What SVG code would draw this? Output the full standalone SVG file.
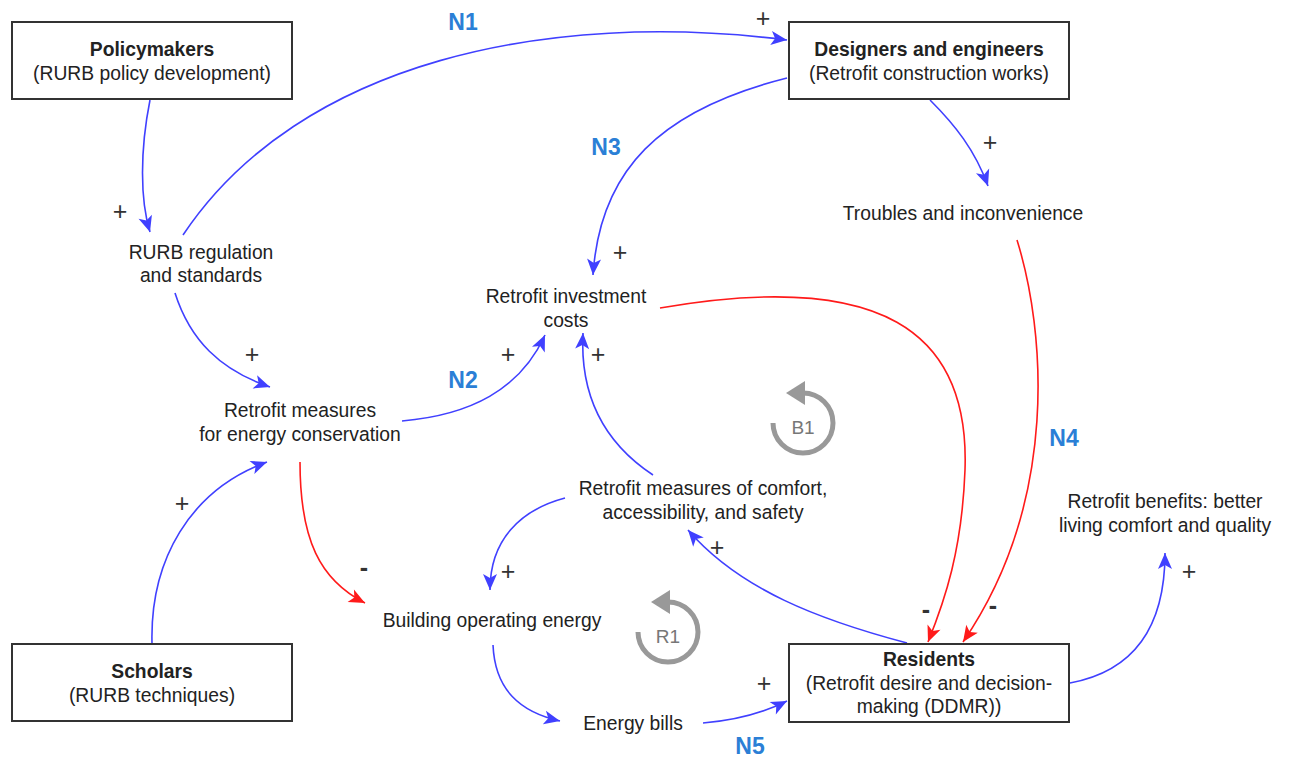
<svg xmlns="http://www.w3.org/2000/svg" width="1290" height="758" viewBox="0 0 1290 758">
  <style>
    text { font-family: "Liberation Sans", Arial, sans-serif; font-size: 19.3px; fill: #222; text-anchor: middle; }
    .b { font-weight: bold; }
    .box { fill: #fff; stroke: #333; stroke-width: 2; }
    .pos { stroke: #4040ff; stroke-width: 1.6; fill: none; marker-end: url(#ab); }
    .neg { stroke: #ff1a1a; stroke-width: 1.6; fill: none; marker-end: url(#ar); }
    .sign { font-size: 25px; fill: #333; }
    .minus { font-weight: bold; }
    .tag { font-size: 23px; font-weight: bold; fill: #2b7fd6; }
    .loop { fill: none; stroke: #999; stroke-width: 5; }
    .loopt { font-size: 19px; fill: #777; }
  </style>
  <defs>
    <marker id="ab" markerUnits="userSpaceOnUse" markerWidth="20" markerHeight="20" viewBox="-18 -9 20 18" refX="0" refY="0" orient="auto">
      <path d="M0,0 L-16,-7 L-12,0 L-16,7 Z" fill="#4040ff"/>
    </marker>
    <marker id="ar" markerUnits="userSpaceOnUse" markerWidth="20" markerHeight="20" viewBox="-18 -9 20 18" refX="0" refY="0" orient="auto">
      <path d="M0,0 L-16,-7 L-12,0 L-16,7 Z" fill="#ff1a1a"/>
    </marker>
  </defs>

  <rect width="1290" height="758" fill="#fff"/>

  <!-- connectors -->
  <g id="connectors">
    <path class="pos" d="M150,100 C140,150 140,200 150,232"/>
    <path class="pos" d="M183,235 C300,60 550,10 787,40"/>
    <path class="pos" d="M175,293 C190,340 220,370 270,387"/>
    <path class="pos" d="M402,421 C470,415 520,390 545,335"/>
    <path class="pos" d="M152,643 C150,560 190,490 267,462"/>
    <path class="neg" d="M300,462 C300,540 320,580 365,603"/>
    <path class="pos" d="M930,100 C955,125 975,150 988,186"/>
    <path class="pos" d="M787,78 C660,110 600,170 593,275"/>
    <path class="neg" d="M660,308 C880,270 970,330 965,470 C962,550 945,600 928,642"/>
    <path class="neg" d="M1017,240 C1045,330 1060,500 963,642"/>
    <path class="pos" d="M653,475 C600,440 580,390 583,333"/>
    <path class="pos" d="M565,498 C520,510 490,540 490,590"/>
    <path class="pos" d="M907,643 C820,620 740,590 688,530"/>
    <path class="pos" d="M493,645 C495,690 520,712 560,721"/>
    <path class="pos" d="M703,723 C740,720 765,712 787,701"/>
    <path class="pos" d="M1070,683 C1140,670 1165,620 1165,553"/>
  </g>

  <!-- polarity signs -->
  <g id="signs">
    <text class="sign" x="763" y="27">+</text>
    <text class="sign" x="120" y="220">+</text>
    <text class="sign" x="990" y="151">+</text>
    <text class="sign" x="620" y="261">+</text>
    <text class="sign" x="252" y="363">+</text>
    <text class="sign" x="508" y="363">+</text>
    <text class="sign" x="598" y="363">+</text>
    <text class="sign" x="182" y="512">+</text>
    <text class="sign minus" x="364" y="576">-</text>
    <text class="sign" x="508" y="580">+</text>
    <text class="sign" x="717" y="556">+</text>
    <text class="sign minus" x="926" y="618">-</text>
    <text class="sign minus" x="993" y="614">-</text>
    <text class="sign" x="1189" y="580">+</text>
    <text class="sign" x="764" y="692">+</text>
  </g>

  <!-- pathway tags -->
  <g id="tags">
    <text class="tag" x="463" y="30">N1</text>
    <text class="tag" x="606" y="155">N3</text>
    <text class="tag" x="463" y="388">N2</text>
    <text class="tag" x="1064" y="446">N4</text>
    <text class="tag" x="750" y="754">N5</text>
  </g>

  <!-- loop markers -->
  <g id="loop-b1">
    <path class="loop" d="M803,393 A30,30 0 1 1 773,423"/>
    <polygon points="786,393 805,381 805,405" fill="#999"/>
    <text class="loopt" x="803" y="434">B1</text>
  </g>
  <g id="loop-r1">
    <path class="loop" d="M668,602 A30,30 0 1 1 638,632"/>
    <polygon points="651,602 670,590 670,614" fill="#999"/>
    <text class="loopt" x="668" y="643">R1</text>
  </g>

  <!-- actor boxes -->
  <g id="policymakers">
    <rect class="box" x="12" y="22" width="280" height="77"/>
    <text class="b" x="152" y="56">Policymakers</text>
    <text x="152" y="80">(RURB policy development)</text>
  </g>
  <g id="designers">
    <rect class="box" x="789" y="22" width="280" height="77"/>
    <text class="b" x="929" y="56">Designers and engineers</text>
    <text x="929" y="80">(Retrofit construction works)</text>
  </g>
  <g id="scholars">
    <rect class="box" x="12" y="644" width="280" height="77"/>
    <text class="b" x="152" y="678">Scholars</text>
    <text x="152" y="702">(RURB techniques)</text>
  </g>
  <g id="residents">
    <rect class="box" x="789" y="644" width="280" height="78"/>
    <text class="b" x="929" y="666">Residents</text>
    <text x="929" y="690">(Retrofit desire and decision-</text>
    <text x="929" y="713">making (DDMR))</text>
  </g>

  <!-- variables -->
  <g id="rurb-regulation">
    <text x="201" y="259">RURB regulation</text>
    <text x="201" y="282">and standards</text>
  </g>
  <g id="investment-costs">
    <text x="566" y="303">Retrofit investment</text>
    <text x="566" y="327">costs</text>
  </g>
  <g id="troubles">
    <text x="963" y="220">Troubles and inconvenience</text>
  </g>
  <g id="energy-measures">
    <text x="300" y="417">Retrofit measures</text>
    <text x="300" y="441">for energy conservation</text>
  </g>
  <g id="comfort-measures">
    <text x="703" y="495">Retrofit measures of comfort,</text>
    <text x="703" y="519">accessibility, and safety</text>
  </g>
  <g id="benefits">
    <text x="1165" y="508">Retrofit benefits: better</text>
    <text x="1165" y="532">living comfort and quality</text>
  </g>
  <g id="operating-energy">
    <text x="492" y="627">Building operating energy</text>
  </g>
  <g id="energy-bills">
    <text x="633" y="730">Energy bills</text>
  </g>
</svg>
